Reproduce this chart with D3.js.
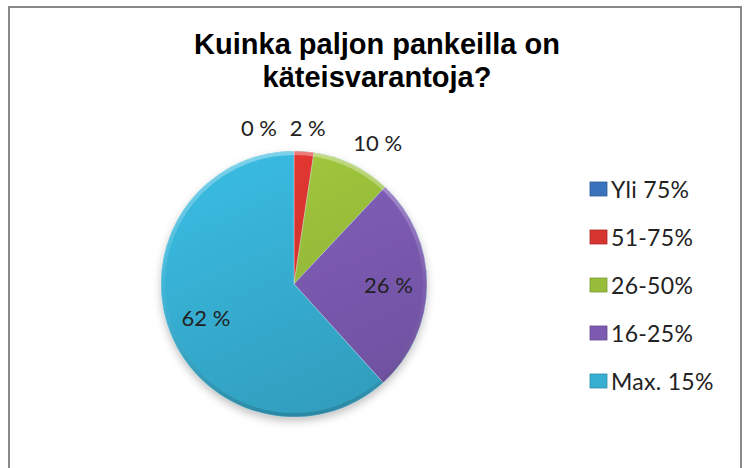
<!DOCTYPE html>
<html>
<head>
    <meta charset="utf-8">
    <script src="https://cdnjs.cloudflare.com/ajax/libs/d3/7.8.5/d3.min.js"></script>
    <style>
        body { margin: 0; background: #fff; }
        svg { display: block; }
    </style>
</head>
<body>
    <svg id="chart" width="750" height="468"></svg>
    <script>
        // Data
        const categories = ["Yli 75%", "51-75%", "26-50%", "16-25%", "Max. 15%"];
        const values = [0, 2.4, 9.6, 26.3, 61.7];
        const valueLabels = ["0 %", "2 %", "10 %", "26 %", "62 %"];
        const titleLines = ["Kuinka paljon pankeilla on", "käteisvarantoja?"];

        const colors = ["#3a72bb", "#d6342f", "#98bd3a", "#7c5ab2", "#36afd2"];

        const svg = d3.select("#chart");

        // Frame
        svg.append("rect")
            .attr("x", 9).attr("y", 7)
            .attr("width", 732).attr("height", 480)
            .attr("fill", "#fff")
            .attr("stroke", "#888")
            .attr("stroke-width", 2);

        // Title
        svg.append("text")
            .attr("x", 377).attr("y", 54)
            .attr("text-anchor", "middle")
            .attr("font-family", "'Liberation Sans', Arial, sans-serif")
            .attr("font-weight", "bold")
            .attr("font-size", 29)
            .attr("fill", "#000")
            .selectAll("tspan")
            .data(titleLines)
            .join("tspan")
            .attr("x", 377)
            .attr("dy", (d, i) => i === 0 ? 0 : 33)
            .text(d => d);

        // Pie
        const cx = 294, cy = 284, r = 133;
        const defs = svg.append("defs");

        defs.append("filter").attr("id", "shadow")
            .attr("x", "-20%").attr("y", "-20%").attr("width", "140%").attr("height", "140%")
            .append("feDropShadow")
            .attr("dx", 0).attr("dy", 4).attr("stdDeviation", 4)
            .attr("flood-color", "#000").attr("flood-opacity", 0.25);

        // gradients are in the pie group's coordinates (centre = 0,0)
        colors.forEach((c, i) => {
            const g = defs.append("linearGradient")
                .attr("id", "grad" + i)
                .attr("gradientUnits", "userSpaceOnUse")
                .attr("x1", -r * 0.6).attr("y1", -r)
                .attr("x2", r * 0.3).attr("y2", r);
            g.append("stop").attr("offset", "0%").attr("stop-color", d3.color(c).brighter(0.2));
            g.append("stop").attr("offset", "100%").attr("stop-color", d3.color(c).darker(0.3));
        });

        const pie = d3.pie().sort(null).value(d => d);
        const arcs = pie(values);
        const total = d3.sum(values);

        const arc = d3.arc().innerRadius(0).outerRadius(r);
        const innerLabelArc = d3.arc().innerRadius(r * 0.71).outerRadius(r * 0.71);

        const pieG = svg.append("g")
            .attr("transform", `translate(${cx},${cy})`);

        pieG.append("circle")
            .attr("r", r)
            .attr("fill", colors[4])
            .attr("filter", "url(#shadow)");

        pieG.selectAll("path.slice")
            .data(arcs)
            .join("path")
            .attr("class", "slice")
            .attr("d", arc)
            .attr("fill", (d, i) => `url(#grad${i})`)
            .attr("stroke", "rgba(255,255,255,0.3)")
            .attr("stroke-width", 1);

        // Bevel: light rim at top, dark rim at bottom
        const rim = defs.append("linearGradient")
            .attr("id", "rim")
            .attr("x1", 0).attr("y1", 0).attr("x2", 0).attr("y2", 1);
        rim.append("stop").attr("offset", "0%").attr("stop-color", "#fff").attr("stop-opacity", 0.35);
        rim.append("stop").attr("offset", "50%").attr("stop-color", "#fff").attr("stop-opacity", 0.05);
        rim.append("stop").attr("offset", "100%").attr("stop-color", "#000").attr("stop-opacity", 0.15);

        pieG.append("circle")
            .attr("r", r - 2)
            .attr("fill", "none")
            .attr("stroke", "url(#rim)")
            .attr("stroke-width", 4);

        // Labels
        const labelFont = "Lato, 'Open Sans', sans-serif";
        const labelSize = 22;

        pieG.selectAll("text.lbl")
            .data(arcs)
            .join("text")
            .attr("class", "lbl")
            .attr("font-family", labelFont)
            .attr("font-size", labelSize)
            .attr("fill", "#222")
            .attr("dominant-baseline", "central")
            .attr("text-anchor", d => d.value === 0 ? "end" : "middle")
            .text((d, i) => valueLabels[i])
            .attr("transform", function (d) {
                const pct = d.value / total;
                if (pct >= 0.2) {
                    const [x, y] = innerLabelArc.centroid(d);
                    return `translate(${x},${y})`;
                }
                // outside labels
                const a = (d.startAngle + d.endAngle) / 2;
                const rr = r + 22;
                let x = rr * Math.sin(a);
                let y = -rr * Math.cos(a);
                const w = this.getComputedTextLength();
                x += Math.sin(a) * w * 0.75;
                if (d.value === 0) { x -= 17; y -= 2; }
                else { y -= 2; }
                return `translate(${x},${y})`;
            });

        // Legend
        const legend = svg.append("g")
            .attr("transform", "translate(590,189)");

        const item = legend.selectAll("g")
            .data(categories)
            .join("g")
            .attr("transform", (d, i) => `translate(0,${i * 48})`);

        item.append("rect")
            .attr("x", 0).attr("y", -7)
            .attr("width", 17).attr("height", 14)
            .attr("fill", (d, i) => colors[i])
            .attr("stroke", (d, i) => d3.color(colors[i]).darker(0.6))
            .attr("stroke-width", 0.8);

        item.append("text")
            .attr("x", 21).attr("y", 0)
            .attr("dominant-baseline", "central")
            .attr("font-family", labelFont)
            .attr("font-size", 23)
            .attr("letter-spacing", 0.3)
            .attr("fill", "#222")
            .text(d => d);
    </script>
</body>
</html>
